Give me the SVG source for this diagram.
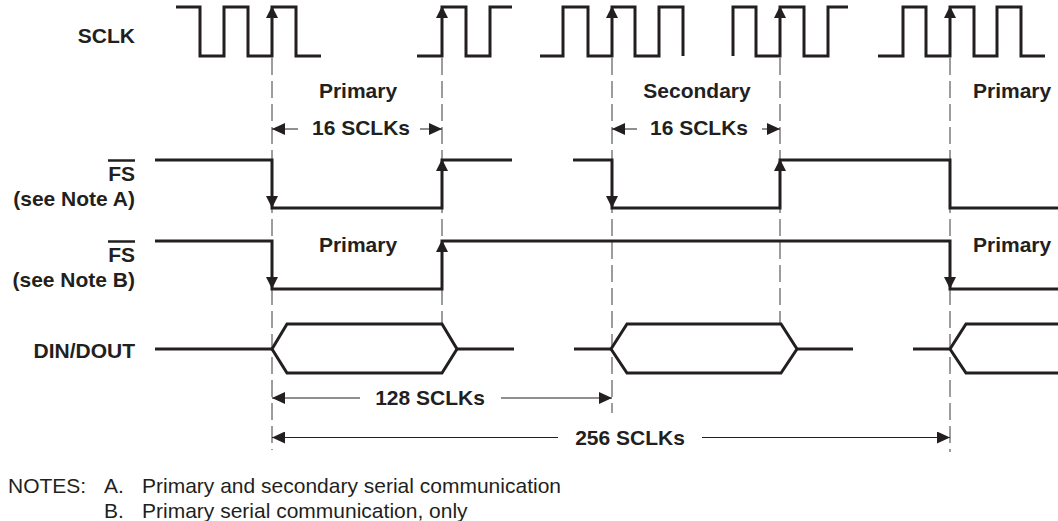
<svg xmlns="http://www.w3.org/2000/svg" width="1058" height="521" viewBox="0 0 1058 521">
<style>
.wave{fill:none;stroke:#231f20;stroke-width:3;stroke-linejoin:miter;stroke-linecap:butt}
.dash{fill:none;stroke:#3a3a3a;stroke-width:1;stroke-dasharray:17 6}
.dim{fill:none;stroke:#231f20;stroke-width:1;marker-end:url(#dimArrow)}
.lbl{font-family:"Liberation Sans",Arial,sans-serif;font-weight:bold;font-size:21px;fill:#231f20}
.note{font-family:"Liberation Sans",Arial,sans-serif;font-size:21px;fill:#231f20}
.head{fill:#231f20}
</style>
<defs>
<marker id="dimArrow" markerUnits="userSpaceOnUse" markerWidth="13" markerHeight="12" refX="13" refY="6" orient="auto">
<path d="M0,0 L13,6 L0,12 Z" fill="#231f20"/>
</marker>
<path id="up" d="M-6,12 L6,12 L0,0 Z"/>
<path id="down" d="M-6,-12 L6,-12 L0,0 Z"/>
</defs>
<rect width="1058" height="521" fill="#fff"/>

<g id="connectors">
<path class="dash" d="M272,58 V450"/>
<path class="dash" d="M442,58 V324"/>
<path class="dash" d="M612,58 V413"/>
<path class="dash" d="M780,58 V324"/>
<path class="dash" d="M950,58 V452"/>
<path class="dim" d="M298,129 H272"/>
<path class="dim" d="M420,129 H442"/>
<path class="dim" d="M637,129 H612"/>
<path class="dim" d="M762,129 H780"/>
<path class="dim" d="M360,398 H272"/>
<path class="dim" d="M501,398 H612"/>
<path class="dim" d="M558,437.5 H272"/>
<path class="dim" d="M702,437.5 H950"/>
<text class="lbl" x="361" y="135" text-anchor="middle">16 SCLKs</text>
<text class="lbl" x="699" y="135" text-anchor="middle">16 SCLKs</text>
<text class="lbl" x="430" y="405" text-anchor="middle">128 SCLKs</text>
<text class="lbl" x="630" y="445" text-anchor="middle">256 SCLKs</text>
</g>

<g id="sclk">
<text class="lbl" x="135" y="43" text-anchor="end">SCLK</text>
<path class="wave" d="M176,7 H200 V56 H224 V7 H248 V56 H272 V7 H296 V56 H321"/>
<path class="wave" d="M417,56 H442 V7 H466 V56 H490 V7 H512"/>
<path class="wave" d="M540,56 H563 V7 H588 V56 H612 V7 H635 V56 H659 V7 H683 V56"/>
<path class="wave" d="M733,56 V7 H756 V56 H780 V7 H804 V56 H828 V7 H848"/>
<path class="wave" d="M878,56 H903 V7 H926 V56 H950 V7 H974 V56 H997 V7 H1021 V56 H1045"/>
<use href="#up" class="head" x="272" y="6"/>
<use href="#up" class="head" x="442" y="6"/>
<use href="#up" class="head" x="612" y="6"/>
<use href="#up" class="head" x="780" y="6"/>
<use href="#up" class="head" x="950" y="6"/>
<text class="lbl" x="358" y="98" text-anchor="middle">Primary</text>
<text class="lbl" x="697" y="98" text-anchor="middle">Secondary</text>
<text class="lbl" x="973" y="98">Primary</text>
</g>

<g id="fs-note-a">
<text class="lbl" x="135" y="181" text-anchor="end">FS</text>
<path d="M108,160.5 H135" stroke="#231f20" stroke-width="2.5"/>
<text class="lbl" x="135" y="206" text-anchor="end">(see Note A)</text>
<path class="wave" d="M155,160 H272 V208 H442 V160 H512"/>
<path class="wave" d="M573,160 H612 V208 H780 V160 H950 V208 H1058"/>
<use href="#down" class="head" x="272" y="208"/>
<use href="#up" class="head" x="442" y="159"/>
<use href="#down" class="head" x="612" y="208"/>
<use href="#up" class="head" x="780" y="159"/>
</g>

<g id="fs-note-b">
<text class="lbl" x="135" y="262" text-anchor="end">FS</text>
<path d="M108,241.5 H135" stroke="#231f20" stroke-width="2.5"/>
<text class="lbl" x="135" y="287" text-anchor="end">(see Note B)</text>
<path class="wave" d="M155,241 H272 V289 H442 V241 H950 V289 H1058"/>
<use href="#down" class="head" x="272" y="289"/>
<use href="#up" class="head" x="442" y="240"/>
<use href="#down" class="head" x="950" y="289"/>
<text class="lbl" x="358" y="252" text-anchor="middle">Primary</text>
<text class="lbl" x="973" y="252">Primary</text>
</g>

<g id="din-dout">
<text class="lbl" x="135" y="358" text-anchor="end">DIN/DOUT</text>
<path class="wave" d="M155,349 H272 M457,349 H514"/>
<path class="wave" d="M272,349 L287,324 H442 L457,349 L442,373 H287 Z"/>
<path class="wave" d="M574,349 H611 M797,349 H853"/>
<path class="wave" d="M611,349 L627,324 H781 L797,349 L781,373 H627 Z"/>
<path class="wave" d="M913,349 H950 M1058,324 H966 L950,349 L966,373 H1058"/>
</g>

<g id="notes">
<text class="note" x="8" y="493">NOTES:</text>
<text class="note" x="104" y="493">A.</text>
<text class="note" x="142" y="493">Primary and secondary serial communication</text>
<text class="note" x="104" y="518">B.</text>
<text class="note" x="142" y="518">Primary serial communication, only</text>
</g>
</svg>
